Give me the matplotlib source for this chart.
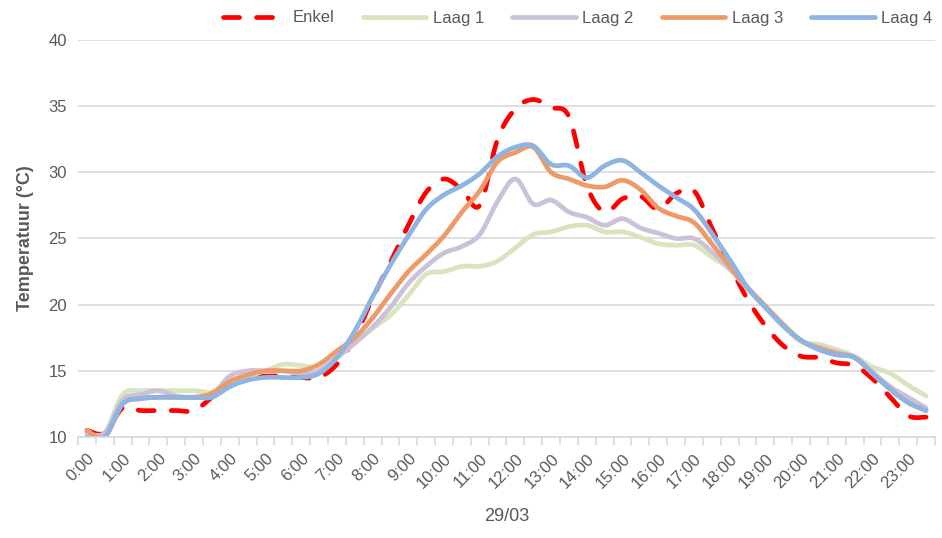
import numpy as np
import matplotlib.pyplot as plt

# half-hourly temperatures, 29/03
times = ['%d:%02d' % (h, m) for h in range(24) for m in (0, 30)]

enkel = [10.5, 10.3, 12.2, 12.0, 12.0, 12.0, 12.0, 13.0, 14.0, 14.5,
         14.6, 14.6, 14.5, 14.5, 15.5, 17.5, 20.5, 23.2, 26.0, 28.5,
         29.5, 28.7, 27.5, 32.5, 34.8, 35.5, 34.9, 34.2, 29.0, 27.0,
         28.0, 28.2, 27.2, 28.4, 28.6, 25.8, 23.0, 20.4, 18.4, 16.9,
         16.1, 16.0, 15.6, 15.4, 14.4, 13.0, 11.6, 11.5]
laag1 = [10.2, 10.3, 13.2, 13.5, 13.5, 13.5, 13.5, 13.4, 14.0, 14.6,
         15.0, 15.5, 15.4, 15.3, 16.0, 17.1, 18.2, 19.2, 20.7, 22.3,
         22.5, 22.9, 22.9, 23.3, 24.3, 25.3, 25.5, 25.9, 26.0, 25.5,
         25.5, 25.1, 24.6, 24.5, 24.5, 23.6, 22.7, 21.3, 19.8, 18.4,
         17.2, 17.0, 16.6, 16.1, 15.3, 14.8, 13.9, 13.1]
laag2 = [10.3, 10.3, 12.8, 13.2, 13.5, 13.1, 13.0, 13.2, 14.6, 15.0,
         15.0, 15.0, 14.8, 15.0, 16.0, 17.1, 18.3, 19.8, 21.6, 22.9,
         23.9, 24.4, 25.3, 27.8, 29.5, 27.6, 27.9, 27.0, 26.6, 26.0,
         26.5, 25.8, 25.4, 25.0, 25.0, 24.0, 22.7, 21.2, 19.8, 18.4,
         17.3, 16.8, 16.4, 16.0, 14.9, 13.8, 13.0, 12.2]
laag3 = [10.5, 10.0, 12.5, 12.9, 13.0, 13.0, 13.0, 13.3, 14.2, 14.7,
         15.0, 15.0, 15.0, 15.5, 16.5, 17.5, 19.0, 20.8, 22.5, 23.8,
         25.2, 27.0, 28.6, 30.8, 31.5, 31.9, 30.0, 29.5, 29.0, 28.9,
         29.4, 28.7, 27.3, 26.7, 26.2, 24.6, 22.9, 21.3, 19.9, 18.5,
         17.3, 16.7, 16.3, 16.0, 14.8, 13.6, 12.6, 12.0]
laag4 = [10.0, 10.0, 12.5, 12.9, 13.0, 13.0, 13.0, 13.0, 13.8, 14.3,
         14.5, 14.5, 14.5, 14.8, 16.0, 18.0, 20.6, 23.0, 25.2, 27.2,
         28.3, 29.0, 29.9, 31.2, 31.9, 32.0, 30.6, 30.5, 29.6, 30.5,
         30.9, 30.0, 29.0, 28.1, 27.2, 25.4, 23.4, 21.3, 19.8, 18.4,
         17.3, 16.6, 16.2, 16.0, 14.8, 13.6, 12.6, 12.0]

series = [('Enkel', enkel), ('Laag 1', laag1), ('Laag 2', laag2),
          ('Laag 3', laag3), ('Laag 4', laag4)]


def smooth(y, n=12):
    """Catmull-Rom curve through the points, like a smoothed line in a spreadsheet."""
    y = np.asarray(y, float)
    x = np.arange(len(y), dtype=float)
    px = np.concatenate([[x[0]], x, [x[-1]]])
    py = np.concatenate([[y[0]], y, [y[-1]]])
    xs, ys = [], []
    t = np.linspace(0, 1, n, endpoint=False)
    for i in range(1, len(px) - 2):
        p0, p1, p2, p3 = py[i - 1], py[i], py[i + 1], py[i + 2]
        q0, q1, q2, q3 = px[i - 1], px[i], px[i + 1], px[i + 2]
        c1y, c2y = p1 + (p2 - p0) / 6, p2 - (p3 - p1) / 6
        c1x, c2x = q1 + (q2 - q0) / 6, q2 - (q3 - q1) / 6
        a, b, c, d = (1 - t) ** 3, 3 * (1 - t) ** 2 * t, 3 * (1 - t) * t ** 2, t ** 3
        xs.append(a * q1 + b * c1x + c * c2x + d * q2)
        ys.append(a * p1 + b * c1y + c * c2y + d * p2)
    xs.append([x[-1]])
    ys.append([y[-1]])
    return np.concatenate(xs), np.concatenate(ys)


plt.rcParams['font.family'] = ['Liberation Sans', 'DejaVu Sans']
grey = '#595959'

fig = plt.figure(figsize=(9.42, 5.38), dpi=100)
ax = fig.add_axes([78 / 942, 1 - 437 / 538, (935 - 78) / 942, (437 - 40) / 538])

styles = {
    'Enkel': dict(color='#FF0000', lw=3.4, ls=(0, (3.4, 3.6)), dash_capstyle='round'),
    'Laag 1': dict(color='#D7E4BD', lw=3.4, solid_capstyle='round'),
    'Laag 2': dict(color='#CCC1DA', lw=3.4, solid_capstyle='round'),
    'Laag 3': dict(color='#EE9A68', lw=3.4, solid_capstyle='round'),
    'Laag 4': dict(color='#8DB4E2', lw=3.4, solid_capstyle='round'),
}

for name, vals in series:
    sx, sy = smooth(vals)
    ax.plot(sx, sy, label=name, **styles[name])

ax.set_ylim(10, 40)
ax.set_xlim(-0.5, len(times) - 0.5)
ax.set_yticks(range(10, 41, 5))
ax.yaxis.grid(True, color='#D9D9D9', lw=1.2)
ax.set_axisbelow(True)
ax.tick_params(axis='y', length=0, labelsize=12, labelcolor=grey, pad=8)

ax.set_xticks(range(0, len(times), 2))
ax.set_xticklabels(times[::2], rotation=45, ha='right', rotation_mode='anchor',
                   fontsize=12, color=grey)
ax.set_xticks(np.arange(-0.5, len(times), 1), minor=True)
ax.tick_params(axis='x', which='major', length=0, pad=10)
ax.tick_params(axis='x', which='minor', length=6, color='#D9D9D9', width=1.2)

for side in ('top', 'right', 'left'):
    ax.spines[side].set_visible(False)
ax.spines['bottom'].set_color('#D9D9D9')
ax.spines['bottom'].set_linewidth(1.2)

ax.set_ylabel('Temperatuur (°C)', fontsize=13, color=grey, fontweight='bold', labelpad=10)
ax.set_xlabel('29/03', fontsize=13, color=grey, labelpad=12)

fig.legend(*ax.get_legend_handles_labels(), loc='center right',
           bbox_to_anchor=(0.999, 1 - 18 / 538), ncol=5, frameon=False,
           fontsize=12, labelcolor=grey, handlelength=3.8, handletextpad=0.4,
           columnspacing=1.7, borderaxespad=0.1)

fig.savefig('out.png', dpi=100)
